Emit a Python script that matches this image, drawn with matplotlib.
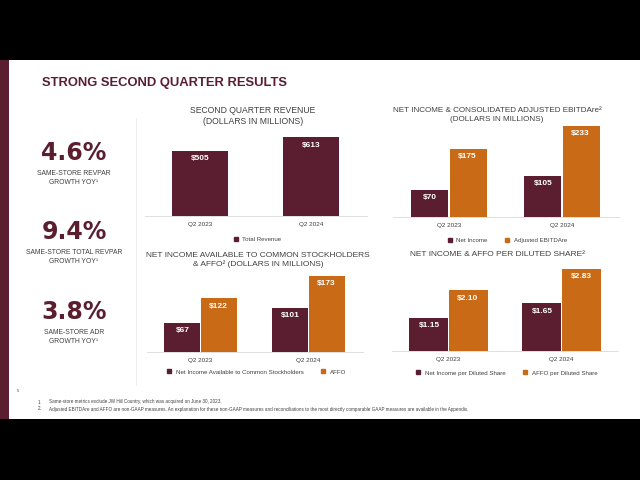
import matplotlib
matplotlib.use("Agg")
import matplotlib.pyplot as plt
from matplotlib.patches import Rectangle
from matplotlib.lines import Line2D

plt.rcParams['font.family'] = ['Liberation Sans', 'DejaVu Sans']

MAROON = "#5b1e31"
ORANGE = "#c96a16"
GREY_TXT = "#404040"
AXIS_GREY = "#d9d9d9"

W, H = 640, 480

# data
quarters = ["Q2 2023", "Q2 2024"]
revenue = [505, 613]
net_income = [70, 105]
adj_ebitdare = [175, 233]
ni_common = [67, 101]
affo = [122, 173]
ni_per_share = [1.15, 1.65]
affo_per_share = [2.10, 2.83]

kpi_values = ["4.6%", "9.4%", "3.8%"]
kpi_labels = ["SAME-STORE REVPAR\nGROWTH YOY\u00b9",
              "SAME-STORE TOTAL REVPAR\nGROWTH YOY\u00b9",
              "SAME-STORE ADR\nGROWTH YOY\u00b9"]

footnotes = ["Same-store metrics exclude JW Hill Country, which was acquired on June 30, 2023.",
             "Adjusted EBITDAre and AFFO are non-GAAP measures. An explanation for these non-GAAP measures and "
             "reconciliations to the most directly comparable GAAP measures are available in the Appendix."]


def fx(x):
    return x / W


def fy(y):
    return 1 - y / H


def add_axes(left, right, top, base):
    return fig.add_axes([fx(left), fy(base), (right - left) / W, (base - top) / H])


def style(ax, ymax):
    ax.set_xlim(-0.5, 1.5)
    ax.set_ylim(0, ymax)
    for s in ["top", "right", "left"]:
        ax.spines[s].set_visible(False)
    ax.spines["bottom"].set_color(AXIS_GREY)
    ax.spines["bottom"].set_linewidth(0.6)
    ax.set_yticks([])
    ax.set_xticks([0, 1])
    ax.set_xticklabels(quarters, fontsize=4.6, color=GREY_TXT)
    ax.tick_params(axis="x", length=0, pad=4)
    ax.patch.set_alpha(0)


def labels(ax, xs, vals, fmt):
    for x, v in zip(xs, vals):
        ax.annotate(fmt.format(v), (x, v), xytext=(0, -3.2), textcoords="offset points",
                    ha="center", va="top", color="white", fontsize=6, fontweight="bold")


def legend(ax, names, colors, yoff):
    handles = [Line2D([], [], marker="s", linestyle="none", color=c, markersize=2.6) for c in colors]
    ax.legend(handles, names, loc="center", bbox_to_anchor=(0.5, yoff), ncol=len(names), frameon=False,
              fontsize=4.4, handletextpad=0.1, columnspacing=2.2, labelcolor=GREY_TXT)


fig = plt.figure(figsize=(6.4, 4.8), dpi=100, facecolor="black")

# slide background
fig.add_artist(Rectangle((0, fy(419)), 1, (419 - 60) / H, transform=fig.transFigure,
                         facecolor="white", edgecolor="none", zorder=0))
fig.add_artist(Rectangle((0, fy(419)), fx(9), (419 - 60) / H, transform=fig.transFigure,
                         facecolor=MAROON, edgecolor="none", zorder=1))
fig.add_artist(Line2D([fx(136), fx(136)], [fy(118), fy(385)], transform=fig.transFigure,
                      color="#ececec", linewidth=0.6))

fig.text(fx(42), fy(83), "STRONG SECOND QUARTER RESULTS", fontsize=9.4, fontweight="bold",
         color=MAROON, va="center", ha="left")

# KPI column
kpi_y = [153, 232, 312]
for val, lab, y in zip(kpi_values, kpi_labels, kpi_y):
    fig.text(fx(74), fy(y), val, fontsize=17, fontweight="bold", color=MAROON, ha="center", va="center",
             family="DejaVu Sans")
    fig.text(fx(74), fy(y + 25), lab, fontsize=4.9, color=GREY_TXT, ha="center", va="center",
             linespacing=1.45)

# chart 1 - revenue
ax1 = add_axes(144.5, 366.5, 130, 216)
style(ax1, 86 / (65 / 505))
ax1.bar([0, 1], revenue, width=0.5, color=MAROON, label="Total Revenue")
labels(ax1, [0, 1], revenue, "${:.0f}")
legend(ax1, ["Total Revenue"], [MAROON], -(239 - 216) / 86)
fig.text(fx(253), fy(116), "SECOND QUARTER REVENUE\n(DOLLARS IN MILLIONS)", fontsize=6.2,
         color=GREY_TXT, ha="center", va="center", linespacing=1.4)

# chart 2 - net income & adjusted EBITDAre
bw = 0.33
ax2 = add_axes(392.5, 618.5, 122, 217)
style(ax2, 95 / (91 / 233))
ax2.bar([-bw / 2 - 0.005, 1 - bw / 2 - 0.005], net_income, width=bw, color=MAROON)
ax2.bar([bw / 2 + 0.005, 1 + bw / 2 + 0.005], adj_ebitdare, width=bw, color=ORANGE)
labels(ax2, [-bw / 2, 1 - bw / 2], net_income, "${:.0f}")
labels(ax2, [bw / 2, 1 + bw / 2], adj_ebitdare, "${:.0f}")
legend(ax2, ["Net Income", "Adjusted EBITDAre"], [MAROON, ORANGE], -(240 - 217) / 95)
fig.text(fx(497), fy(115), "NET INCOME & CONSOLIDATED ADJUSTED EBITDAre\u00b2\n(DOLLARS IN MILLIONS)",
         fontsize=5.9, color=GREY_TXT, ha="center", va="center", linespacing=1.45)

# chart 3 - net income to common & AFFO
ax3 = add_axes(146.5, 362.5, 270, 352)
style(ax3, 82 / (76 / 173))
ax3.bar([-bw / 2 - 0.005, 1 - bw / 2 - 0.005], ni_common, width=bw, color=MAROON)
ax3.bar([bw / 2 + 0.005, 1 + bw / 2 + 0.005], affo, width=bw, color=ORANGE)
labels(ax3, [-bw / 2, 1 - bw / 2], ni_common, "${:.0f}")
labels(ax3, [bw / 2, 1 + bw / 2], affo, "${:.0f}")
legend(ax3, ["Net Income Available to Common Stockholders", "AFFO"], [MAROON, ORANGE], -(372 - 352) / 82)
fig.text(fx(258), fy(260), "NET INCOME AVAILABLE TO COMMON STOCKHOLDERS\n& AFFO\u00b2 (DOLLARS IN MILLIONS)",
         fontsize=6.0, color=GREY_TXT, ha="center", va="center", linespacing=1.35)

# chart 4 - per diluted share
bw4 = 0.345
ax4 = add_axes(392, 618, 265, 351)
style(ax4, 86 / (82 / 2.83))
ax4.bar([-bw4 / 2 - 0.005, 1 - bw4 / 2 - 0.005], ni_per_share, width=bw4, color=MAROON)
ax4.bar([bw4 / 2 + 0.005, 1 + bw4 / 2 + 0.005], affo_per_share, width=bw4, color=ORANGE)
labels(ax4, [-bw4 / 2, 1 - bw4 / 2], ni_per_share, "${:.2f}")
labels(ax4, [bw4 / 2, 1 + bw4 / 2], affo_per_share, "${:.2f}")
legend(ax4, ["Net Income per Diluted Share", "AFFO per Diluted Share"], [MAROON, ORANGE], -(373 - 351) / 86)
fig.text(fx(497), fy(255), "NET INCOME & AFFO PER DILUTED SHARE\u00b2", fontsize=6.0,
         color=GREY_TXT, ha="center", va="center")

# footer
fig.text(fx(18), fy(391), "5", fontsize=3, color=GREY_TXT, ha="center", va="center")
for i, note in enumerate(footnotes):
    fig.text(fx(38), fy(402 + 7 * i), f"{i + 1}.", fontsize=3.35, color=GREY_TXT, va="center")
    fig.text(fx(49), fy(402 + 7 * i), note, fontsize=3.35, color=GREY_TXT, va="center")

fig.savefig("out.png", dpi=100, facecolor=fig.get_facecolor())
